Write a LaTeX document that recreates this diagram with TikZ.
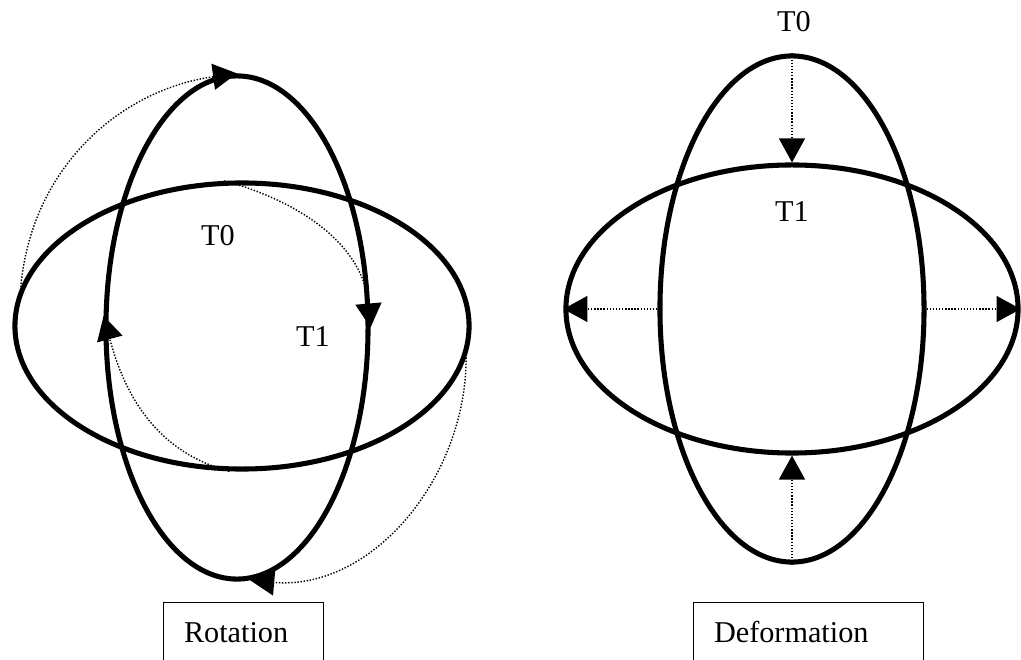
\documentclass[tikz,border=0pt]{standalone}
\usepackage{fontspec}
\setmainfont{Liberation Serif}
\usepackage{tikz}
\usetikzlibrary{arrows.meta,shapes.geometric}

\begin{document}
\begin{tikzpicture}[x=0.025cm, y=0.025cm, font=\fontsize{21.5}{26}\selectfont, >={Triangle[length=0.6cm, width=0.65cm]}]
\tikzstyle{ring}=[ellipse, draw, line width=3.6pt, inner sep=0pt]
\tikzstyle{trace}=[->, line width=1pt, dash pattern=on 1pt off 1.2pt]
\tikzstyle{lbl}=[anchor=base, inner sep=0pt]
\tikzstyle{tag}=[draw, line width=0.9pt, anchor=north west, align=left, inner xsep=0.51cm, inner ysep=0.5cm, text height=0.5cm, text depth=1.5cm]
\useasboundingbox (0,0) rectangle (1021,659);
% rotation
\node[ring, minimum width=6.55cm, minimum height=12.575cm] (vl) at (237,331.5) {};
\node[ring, minimum width=11.35cm, minimum height=7.15cm] (hl) at (242,333) {};
\node[lbl] (t0l) at (218,413) {T0};
\node[lbl] (t1l) at (313,312) {T1};
\draw[trace] (hl.170) to[out=85, in=188] (vl.north);
\draw[trace] (hl.97) to[out=-15, in=95] (vl.east);
\draw[trace] (hl.-95) to[out=165, in=-75] (vl.175);
\draw[trace] (hl.-8) to[out=-90, in=-5] (vl.-87);
\node[tag, text width=2.98cm] (rot) at (163,57) {Rotation};
% deformation
\node[ring, minimum width=6.6cm, minimum height=12.65cm] (vr) at (792,350) {};
\node[ring, minimum width=11.3cm, minimum height=7.2cm] (hr) at (792,350) {};
\node[lbl] (t0r) at (794,627) {T0};
\node[lbl] (t1r) at (792,437) {T1};
\draw[trace] (vr.north) -- (hr.north);
\draw[trace] (vr.south) -- (hr.south);
\draw[trace] (vr.west) -- (hr.west);
\draw[trace] (vr.east) -- (hr.east);
\node[tag, text width=4.73cm] (def) at (693,57) {Deformation};
\end{tikzpicture}
\end{document}
